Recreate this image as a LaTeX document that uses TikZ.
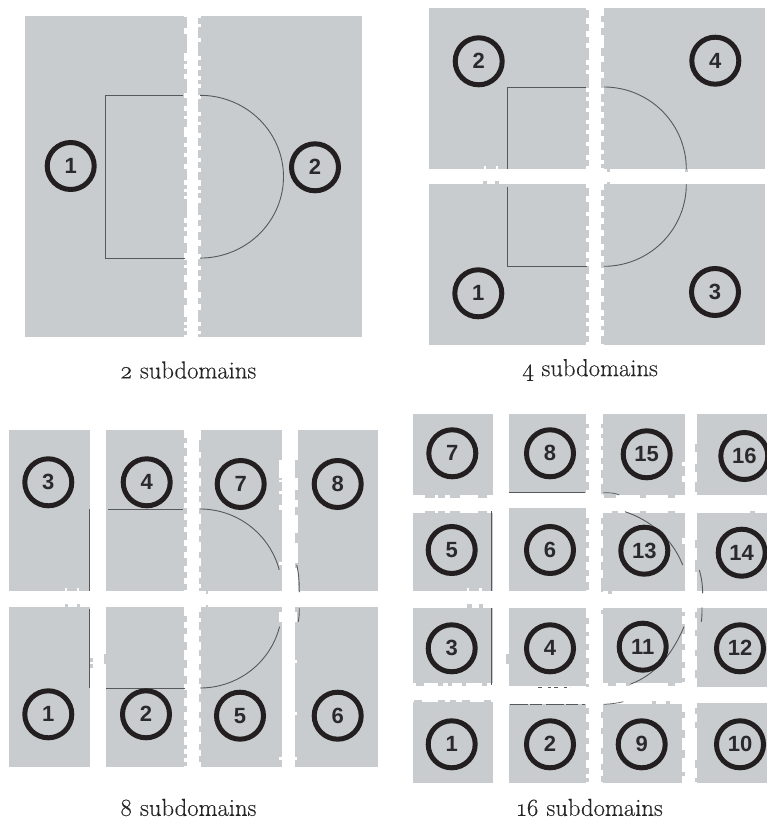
\documentclass[tikz,border=0pt]{standalone}
\usepackage{fontspec}
\newfontfamily\digitfont{Liberation Sans}[Scale=1]
\newfontfamily\capfont{Latin Modern Roman}[FakeBold=0.25,Numbers=OldStyle]
\definecolor{panelgray}{HTML}{C9CCCE}
\definecolor{ringink}{HTML}{231F20}
\definecolor{digitink}{HTML}{2A2A2C}
\definecolor{edgeink}{HTML}{55595B}
\tikzset{
  ring/.style={circle,draw=ringink,line width=5pt,minimum size=47pt,inner sep=0pt,
    text=digitink,font=\digitfont\bfseries\fontsize{22}{22}\selectfont},
  caption/.style={inner sep=0pt,text=black!85,font=\capfont\fontsize{24.6}{26}\selectfont},
  edgeline/.style={draw=edgeink,line width=0.9pt},
  thinedge/.style={draw=edgeink,line width=0.7pt}
}
% panel rectangle
\newcommand\panelbox[4]{\fill[panelgray] (#1,#2) rectangle (#3,#4);}
% column of small pieces: colour, x0, x1, list y0/y1
\newcommand\vbits[4]{\foreach \ya/\yb in {#4}{\fill[#1] (#2,\ya) rectangle (#3,\yb);}}
% row of small pieces: colour, y0, y1, list x0/x1
\newcommand\hbits[4]{\foreach \xa/\xb in {#4}{\fill[#1] (\xa,#2) rectangle (\xb,#3);}}
% elliptical arc: cx, cy, rx, ry, t0, t1
\newcommand\earc[6]{\draw[edgeline] plot[domain=#5:#6,samples=40,smooth] ({#1+#3*cos(\x)},{#2+#4*sin(\x)});}
\begin{document}
\begin{tikzpicture}[x=1pt,y=-1pt]
\useasboundingbox (0,0) rectangle (767,821);
\fill[white] (0,0) rectangle (767,821);

% ---------- 2 subdomains ----------
\panelbox{25}{16}{184}{337}
\panelbox{200.5}{16}{362}{337}
\vbits{panelgray}{184}{186.5}{17/28,34/53,61/64,69/74,79/93,98/106,111/116,119/127,137/143,147/153,157/164,169/180,185/189,192/196,199/218,223/227,231/236,243/253,260/265,268/275,282/290,298/305,317/322,325/328,331/335}
\vbits{panelgray}{198.3}{200.5}{18/24,27/38,42/56,60/66,70/76,80/84,88/95,99/112,116/122,125/133,138/146,150/158,162/168,172/180,186/190,193/198,203/215,220/226,232/240,246/254,259/266,270/276,280/292,298/304,310/322,326/331,334/337}
\draw[edgeline] (183,95.3) -- (105,95.3) -- (105,258) -- (184.5,258);
\earc{200}{176.7}{83.5}{81.4}{-90}{90}
\node[ring] (aone) at (70.7,166) {1};
\node[ring] (atwo) at (315,167.3) {2};
\node[caption] (acap) at (188,370) {2 subdomains};

% ---------- 4 subdomains ----------
\panelbox{429}{8.3}{586}{169}
\panelbox{429}{184.3}{586}{345}
\panelbox{603.5}{8.3}{765}{169}
\panelbox{603.5}{184.3}{765}{345}
\vbits{panelgray}{586}{588.7}{10/18,24/31,37/43,48/60,65/70,74/88,92/97,101/108,112/120,124/130,134/142,146/155,160/166,188/196,202/212,216/226,230/238,242/252,258/262,266/274,280/287,292/300,305/313,318/322,326/332,336/342}
\vbits{panelgray}{601}{603.5}{16/22,28/35,48/56,62/72,78/88,94/102,106/112,118/124,130/136,142/150,154/160,164/168,190/196,200/206,212/218,224/230,236/244,250/256,262/268,274/280,288/296,302/310,316/320,326/330,336/344}
\hbits{panelgray}{181}{184.3}{482.5/486.5,495/499}
\hbits{white}{166}{169}{484/486,496/498}
\vbits{panelgray}{607}{610}{169/172,182/184.3}
\vbits{panelgray}{684.5}{688}{169/172}
\draw[edgeline] (585.5,87) -- (507.3,87) -- (507.3,168.7);
\draw[edgeline] (507.3,187.3) -- (507.3,266.3) -- (586.5,266.3);
\earc{604}{169}{82.3}{82}{-90}{0}
\earc{604}{184.3}{82.3}{82}{0}{90}
\node[ring] (btwo) at (478.7,61.3) {2};
\node[ring] (bfour) at (715.3,60.7) {4};
\node[ring] (bone) at (478.3,293.3) {1};
\node[ring] (bthree) at (715,292) {3};
\node[caption] (bcap) at (590,370) {4 subdomains};

% ---------- 8 subdomains ----------
\panelbox{9.3}{430.3}{90.3}{591.3}
\panelbox{9.3}{607}{90.3}{767}
\panelbox{106}{430.3}{184}{591.3}
\panelbox{106}{607}{184}{767}
\panelbox{201}{430.3}{282.3}{591.3}
\panelbox{201}{607}{282.3}{767}
\panelbox{297.7}{430.3}{378.3}{591.3}
\panelbox{295}{607}{378.3}{767}
\vbits{panelgray}{184}{186.7}{438/443,448/456,462/466,472/477,481/484,488/492,497/503,508/514,520/527,532/540,546/552,558/566,572/578,584/590,616/622,628/634,642/650,660/668,676/684,690/698,706/712,720/726,732/737,745/749,754/758,762/766}
\vbits{panelgray}{198.7}{201}{440/452,458/466,472/478,486/492,496/502,508/514,524/530,536/542,552/558,566/572,578/584,588/591,612/618,622/630,636/642,650/656,664/670,678/684,694/702,712/718,726/732,744/750,756/762}
\vbits{white}{279}{282.3}{460/478,480/482,491/494,505/510,562/565,612/622,757/760}
\vbits{panelgray}{295}{297.7}{460/478,490/500,507/515,533/543,563/568}
\vbits{white}{295}{297}{612/622,660/663,712/715,757/760}
\hbits{white}{588}{591.3}{65/67,77/79}
\hbits{panelgray}{604}{607}{65/68,77/80}
\vbits{panelgray}{90.3}{92.5}{658/662,664/668}
\vbits{panelgray}{103.5}{106}{654/664}
\vbits{panelgray}{206}{208}{591.3/594,604.5/607}
\draw[edgeline] (89,509) -- (89,591.3);
\draw[edgeline] (89,609.3) -- (89,688.3);
\draw[edgeline] (108,509) -- (183,509);
\draw[edgeline] (106,688.3) -- (185,688.3);
\earc{200}{591}{82}{82}{-90}{-15}
\earc{200}{607}{82}{81}{14}{90}
\draw[edgeline] (296.7,565) .. controls (298.5,572) and (299.3,580) .. (299.3,592);
\draw[edgeline] (299.3,608.3) .. controls (299.3,614) and (299,618) .. (298.3,621.7);
\node[ring] (cthree) at (48.3,482.3) {3};
\node[ring] (cfour) at (146.7,482.3) {4};
\node[ring] (cseven) at (240.7,484) {7};
\node[ring] (ceight) at (337.7,484) {8};
\node[ring] (cone) at (48.3,714.3) {1};
\node[ring] (ctwo) at (146,714.3) {2};
\node[ring] (cfive) at (240,715.7) {5};
\node[ring] (csix) at (337.7,715.7) {6};
\node[caption] (ccap) at (188,807.5) {8 subdomains};

% ---------- 16 subdomains ----------
\panelbox{412.7}{414}{493.3}{495}
\panelbox{508.7}{414}{586}{493}
\panelbox{603}{414}{685}{495}
\panelbox{697}{414}{767}{495}
\panelbox{412.7}{513}{493.3}{591.3}
\panelbox{508.7}{507.5}{586}{591.3}
\panelbox{603}{513}{685}{591.3}
\panelbox{697}{513}{767}{591.3}
\panelbox{412.7}{607.5}{493.3}{683}
\panelbox{508.7}{607.5}{586}{686}
\panelbox{603}{607.5}{682}{683}
\panelbox{697}{607.5}{767}{686.5}
\panelbox{412.7}{702}{493.3}{783}
\panelbox{508.7}{704}{586}{783}
\panelbox{603}{704}{682}{783}
\panelbox{697}{703}{767}{783}
% right edges of column 2
\vbits{panelgray}{586}{588.7}{424/428,434/440,446/450,458/464,470/476,482/490,518/524,530/536,542/548,556/562,570/576,582/590,618/624,632/636,644/650,658/664,672/678,684/687,708/714,722/730,738/744,752/760,768/774,778/782}
% left and right edges of column 3
\vbits{panelgray}{601}{603}{424/428,434/438,446/450,458/464,470/478,484/494,518/524,530/536,548/556,562/570,578/592,610/614,712/718,728/734,748/754,764/770,776/782}
\vbits{panelgray}{682}{685}{612/616,624/634,644/650,662/668,678/682,712/718,730/738,750/758,772/776}
\vbits{white}{682}{685}{462/466,476/482,538/544}
% left edge of column 4
\vbits{panelgray}{695}{697}{444/452,464/472,482/492,540/548,560/572,612/618,630/636,650/656,670/678,708/714,722/728,760/768,778/782}
% bottom and top bumps of rows
\hbits{panelgray}{495}{497.7}{425/435,438/445,450/460,478/487,604/616,640/646,668/675}
\hbits{panelgray}{511}{513}{425/435,438/445,450/460,478/487,612/618,640/646,668/675,750/755}
\hbits{panelgray}{683}{686}{416/424,438/443,448/452,462/466,482/487,608/616,626/630,668/675}
\hbits{panelgray}{699.5}{702}{414/422,438/445,450/456,462/470,484/491}
\hbits{panelgray}{701}{704}{652/656,666/670}
\hbits{panelgray}{603.5}{607.5}{467/472,479/483}
\hbits{white}{588}{591.3}{467/469,479/482}
\hbits{panelgray}{591.3}{594}{608/612}
\vbits{panelgray}{506}{508.7}{654/664}
% outline pieces
\draw[thinedge] (508.7,492.7) -- (585,492.7);
\draw[thinedge] (491.7,511) -- (491.7,590.7);
\draw[thinedge] (491.7,608) -- (491.7,685);
\draw[thinedge,dash pattern=on 18pt off 2pt on 12pt off 4pt] (510,704) -- (585,704);
\draw[thinedge,dash pattern=on 4pt off 6pt on 3pt off 3pt] (538,687) -- (570,687);
\draw[thinedge] (603.3,492.7) .. controls (609,492.5) and (615,493) .. (619.3,495);
\draw[edgeline] (625,511.7) .. controls (650,520) and (672,538) .. (682.7,565);
\draw[edgeline] (699.3,570) .. controls (701.5,577) and (702.5,585) .. (702.7,593.3);
\draw[edgeline] (702,607.3) .. controls (702,613) and (702,617) .. (701.3,621.7);
\draw[edgeline] (684,626.7) .. controls (672,655) and (655,675) .. (630,684.3);
\draw[thinedge] (604,704.3) .. controls (610,704) and (617,703.3) .. (623.3,701.7);
\node[ring] (d7) at (452.3,453.3) {7};
\node[ring] (d8) at (550,453.3) {8};
\node[ring] (d15) at (646.7,454.3) {15};
\node[ring] (d16) at (744.3,456) {16};
\node[ring] (d5) at (451.7,550) {5};
\node[ring] (d6) at (550,550) {6};
\node[ring] (d13) at (644.3,550.7) {13};
\node[ring] (d14) at (741.7,552.7) {14};
\node[ring] (d3) at (451.7,648.3) {3};
\node[ring] (d4) at (550,648.3) {4};
\node[ring] (d11) at (642.7,646.7) {11};
\node[ring] (d12) at (740,648.3) {12};
\node[ring] (d1) at (451.7,744.3) {1};
\node[ring] (d2) at (550,744.3) {2};
\node[ring] (d9) at (641.7,744.3) {9};
\node[ring] (d10) at (740,744.3) {10};
\node[caption] (dcap) at (590,807.5) {16 subdomains};
\end{tikzpicture}
\end{document}
